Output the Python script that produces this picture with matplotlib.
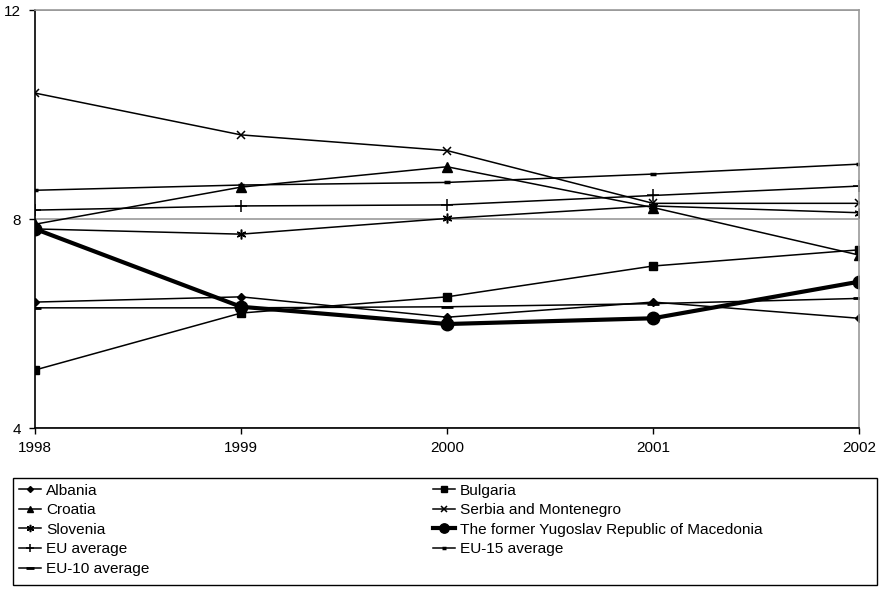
import matplotlib.pyplot as plt
from matplotlib.patches import Rectangle

plt.rcParams['font.family'] = ['Liberation Sans', 'DejaVu Sans']

years = [1998, 1999, 2000, 2001, 2002]

albania = [6.41, 6.51, 6.12, 6.41, 6.10]
bulgaria = [5.11, 6.20, 6.51, 7.10, 7.41]
croatia = [7.90, 8.61, 9.00, 8.22, 7.31]
serbia = [10.41, 9.61, 9.31, 8.30, 8.30]
slovenia = [7.81, 7.71, 8.01, 8.25, 8.12]
macedonia = [7.81, 6.32, 5.99, 6.10, 6.80]
eu_avg = [8.17, 8.25, 8.27, 8.45, 8.63]
eu15_avg = [8.55, 8.65, 8.70, 8.86, 9.05]
eu10_avg = [6.30, 6.30, 6.32, 6.38, 6.48]

W, H = 881, 592
fig = plt.figure(figsize=(W / 100, H / 100), dpi=100)
ax = fig.add_axes([35 / W, 1 - 428 / H, 824 / W, 418 / H])

k = dict(color='black', lw=1.1)
h_alb, = ax.plot(years, albania, marker='D', ms=4, label='Albania', **k)
h_bul, = ax.plot(years, bulgaria, marker='s', ms=5.5, label='Bulgaria', **k)
h_cro, = ax.plot(years, croatia, marker='^', ms=6.5, label='Croatia', **k)
h_ser, = ax.plot(years, serbia, marker='x', ms=6, mew=1.1, label='Serbia and Montenegro', **k)
h_slo, = ax.plot(years, slovenia, marker=(6, 2, 0), ms=7, mew=1.1, label='Slovenia', **k)
h_eu, = ax.plot(years, eu_avg, marker='+', ms=8, mew=1.1, label='EU average', **k)
h_eu15, = ax.plot(years, eu15_avg, marker='_', ms=4, mew=2.5, label='EU-15 average', **k)
h_eu10, = ax.plot(years, eu10_avg, marker='_', ms=8, mew=2, label='EU-10 average', **k)
h_mac, = ax.plot(years, macedonia, marker='o', ms=9, color='black', lw=3,
                 label='The former Yugoslav Republic of Macedonia')

ax.set_xlim(1998, 2002)
ax.set_ylim(4, 12)
ax.set_xticks(years)
ax.set_yticks([4, 8, 12])
ax.tick_params(labelsize=11, length=4, width=1, color='black')
ax.tick_params(axis='x', pad=5)
ax.tick_params(axis='y', pad=6)
ax.yaxis.grid(True, color='#999999', lw=1.2)
ax.set_axisbelow(True)
for s in ['top', 'right']:
    ax.spines[s].set_color('#999999')
for s in ax.spines.values():
    s.set_linewidth(1.2)

# legend: two columns, frame drawn separately
handles = [h_alb, h_cro, h_slo, h_eu, h_eu10, h_bul, h_ser, h_mac, h_eu15]
leg = fig.legend(handles=handles, labels=[h.get_label() for h in handles],
                 ncol=2, loc='upper left', bbox_to_anchor=(8 / W, 1 - 473 / H),
                 frameon=False, fontsize=11.1,
                 handlelength=1.45, handletextpad=0.3, columnspacing=18.4,
                 labelspacing=0.36, borderpad=0.2, markerscale=0.75)
fig.patches.append(Rectangle((13 / W, 1 - 585 / H), 864 / W, 107 / H,
                             transform=fig.transFigure, fill=False,
                             edgecolor='black', lw=1))

fig.savefig('out.png', dpi=100)
